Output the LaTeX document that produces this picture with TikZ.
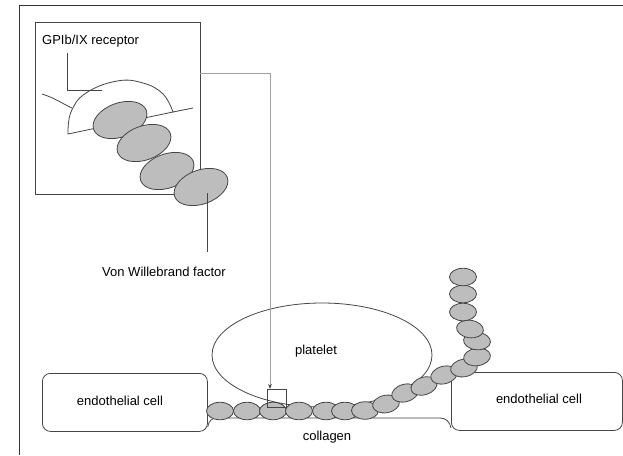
\documentclass[tikz,border=0pt]{standalone}
\usepackage{fontspec}
\setmainfont{Liberation Sans}
\usetikzlibrary{shapes.geometric,arrows.meta}
\definecolor{ink}{HTML}{454545}
\definecolor{beadfill}{HTML}{BDBDBD}
\definecolor{guide}{HTML}{A0A0A0}
\begin{document}
\begin{tikzpicture}[x=1pt,y=-1pt,
  line/.style={draw=ink,line width=0.8pt},
  bead/.style={ellipse,draw=ink,fill=beadfill,line width=0.8pt,inner sep=0pt,minimum width=27pt,minimum height=17.5pt},
  bigbead/.style={ellipse,draw=ink,fill=beadfill,line width=0.8pt,inner sep=0pt,minimum width=56pt,minimum height=34pt,rotate=20},
  cell/.style={draw=ink,line width=0.8pt,rounded corners=8pt,fill=white,inner sep=0pt,anchor=north west},
  lbl/.style={font=\fontsize{13}{15}\selectfont,inner sep=0pt,anchor=base},
  conn/.style={draw=guide,line width=0.6pt}]
\useasboundingbox (0,0) rectangle (623,455);

% outer frame
\draw[draw=black!80,line width=1.6pt] (19.5,455) -- (19.5,5.5) -- (623,5.5);

% ---- enlarged view of the binding site ----
\node[draw=ink,line width=0.8pt,inner sep=0pt,outer sep=0pt,anchor=north west,
      minimum width=165pt,minimum height=172pt] (inset) at (35,22) {};
\node[lbl,anchor=base west] (gplbl) at (42,44) {GPIb/IX receptor};
% membrane and receptor cap
\draw[line] (42,94) .. controls (55,98) and (63,104) .. (72,108);
\draw[line,fill=white] plot[smooth,tension=0.7] coordinates
  {(68,134) (71,112) (86,93) (117,81) (143,83) (163,94) (173,112)} -- cycle;
\draw[line] (173,112) -- (193,108);
\coordinate (rec) at (102,90.5);
\draw[line] (gplbl.south west -| 67,0) ++(0,6) -- (67,90.5) -- (rec);
% von Willebrand factor domains
\node[bigbead] (v1) at (120,120) {};
\node[bigbead] (v2) at (144,143) {};
\node[bigbead] (v3) at (167,171) {};
\node[bigbead] (v4) at (201,187) {};
\node[lbl] (vwflbl) at (164,276) {Von Willebrand factor};
\draw[line] (v4.center) ++(6,6) -- (207,252);

% ---- platelet on the vessel wall ----
\node[ellipse,draw=ink,line width=0.8pt,inner sep=0pt,minimum width=220pt,minimum height=104pt] (platelet) at (322,355) {};
\node[lbl] at (316,354) {platelet};

\node[cell,minimum width=165pt,minimum height=58pt] (lcell) at (42,373) {};
\node[lbl] at (120,405) {endothelial cell};
\node[cell,minimum width=171pt,minimum height=58pt] (rcell) at (451,372) {};
\node[lbl] at (539,403) {endothelial cell};

% collagen surface between the cells
\draw[line] (lcell.east |- 0,427) .. controls (209,420) and (212,418) .. (217,418)
  -- (440,418) .. controls (446,418) and (450,422) .. (rcell.west |- 0,428);
\node[lbl] (collbl) at (327,440) {collagen};

% vWF chain on collagen and rising along the platelet
\node[bead] (c1) at (220,411) {};
\node[bead] (c2) at (247,411) {};
\node[bead] (c3) at (273,411) {};
\node[bead] (c4) at (299,411) {};
\node[bead] (c5) at (326,411) {};
\node[bead] (c6) at (345,411) {};
\node[bead] (c7) at (365,410.5) {};
\node[bead,rotate=10] (c8) at (386,404) {};
\node[bead,rotate=15] (c9) at (405,393) {};
\node[bead,rotate=18] (c10) at (424,386) {};
\node[bead,rotate=15] (c11) at (444,375) {};
\node[bead,rotate=10] (c12) at (464,368) {};
\node[bead,rotate=8] (c13) at (477,357) {};
\node[bead,rotate=-5] (c14) at (477,341) {};
\node[bead,rotate=-8] (c15) at (470,329) {};
\node[bead] (c16) at (463,312) {};
\node[bead] (c17) at (463,294) {};
\node[bead] (c18) at (463,277) {};

% detail marker and pointer from the enlarged view
\node[draw=ink,line width=0.8pt,inner sep=0pt,minimum width=19pt,minimum height=18pt,anchor=north west] (detail) at (267,389) {};
\coordinate (bend) at (270,73);
\draw[conn,-{Stealth[length=5pt,width=3.5pt,color=ink]}] (inset.east |- bend) -- (bend) -- (bend |- detail.north);
\end{tikzpicture}
\end{document}
